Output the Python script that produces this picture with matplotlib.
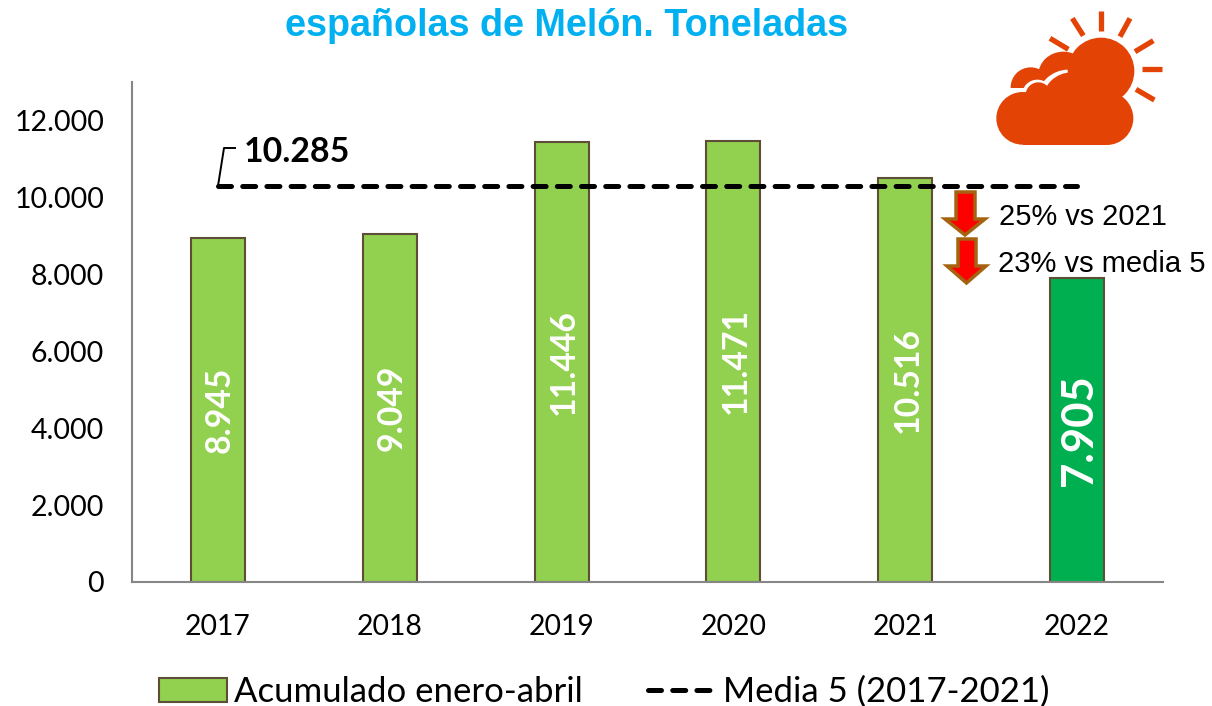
import matplotlib
matplotlib.use("Agg")
import matplotlib.pyplot as plt
from matplotlib.patches import Circle, Ellipse, Polygon, Rectangle, Patch
from matplotlib.lines import Line2D

plt.rcParams['font.family'] = ['Lato', 'DejaVu Sans']

years = ['2017', '2018', '2019', '2020', '2021', '2022']
values = [8945, 9049, 11446, 11471, 10516, 7905]
value_labels = ['8.945', '9.049', '11.446', '11.471', '10.516', '7.905']
media = 10285
media_label = '10.285'
yticks = [0, 2000, 4000, 6000, 8000, 10000, 12000]
ytick_labels = ['0', '2.000', '4.000', '6.000', '8.000', '10.000', '12.000']

W, H = 1212, 706
GREEN = '#92D050'
DARK_GREEN = '#00B050'
EDGE = '#5E4E37'
ICON = '#E34405'

fig = plt.figure(figsize=(W / 100, H / 100), dpi=100)
ax = fig.add_axes([132 / W, 1 - 582 / H, (1163 - 132) / W, (582 - 82) / H])

x = list(range(len(years)))
colors = [GREEN] * 5 + [DARK_GREEN]
ax.bar(x, values, width=0.314, color=colors, edgecolor=EDGE, linewidth=1.5, zorder=2)
ax.plot(x, [media] * len(x), color='black', lw=3.6, dashes=(2.6, 2.24),
        dash_capstyle='round', zorder=3)

for i, lab in enumerate(value_labels):
    big = i == 5
    ax.text(i + 0.012, values[i] / 2, lab, rotation=90, color='white', fontweight='bold',
            fontsize=31.5 if big else 24.3, ha='center', va='center', zorder=4)

ax.set_xlim(-0.5, 5.5)
ax.set_ylim(0, 13000)
ax.set_xticks(x)
ax.set_xticklabels(years)
ax.set_yticks(yticks)
ax.set_yticklabels(ytick_labels)
ax.tick_params(axis='x', length=0, labelsize=20.4, pad=23)
ax.tick_params(axis='y', length=0, labelsize=20.5, pad=20)
for s in ['top', 'right']:
    ax.spines[s].set_visible(False)
for s in ['left', 'bottom']:
    ax.spines[s].set_color('#868686')
    ax.spines[s].set_linewidth(1.5)

# overlay in pixel coordinates for annotations and the icon
ov = fig.add_axes([0, 0, 1, 1], facecolor='none')
ov.set_xlim(0, W)
ov.set_ylim(H, 0)
ov.axis('off')

ov.text(567, 26, 'españolas de Melón. Toneladas', color='#00B0F0', fontsize=27.2,
        fontweight='bold', family='Liberation Sans', ha='center', va='center')

ov.text(244, 152, media_label, color='black', fontsize=24.4, fontweight='bold',
        ha='left', va='center')
ov.plot([218, 224, 235], [186, 148, 148], color='black', lw=1.4)

# arrows
for sx0, sx1, top, neck, hx0, hx1, tip in [(956, 975, 192, 219, 945, 985, 235),
                                            (958, 976, 239, 266, 947, 986, 283)]:
    ov.add_patch(Polygon([(sx0, top), (sx1, top), (sx1, neck), (hx1, neck),
                          ((hx0 + hx1) / 2, tip), (hx0, neck), (sx0, neck)],
                         closed=True, facecolor='#FF0000', edgecolor='#A5620F', lw=2.5,
                         joinstyle='miter', zorder=5))
ov.text(999, 217, '25% vs 2021', family='Liberation Sans', fontsize=20.9, va='center', ha='left')
ov.text(998, 264, '23% vs media 5', family='Liberation Sans', fontsize=21, va='center', ha='left')


# weather icon, traced from the 3x zoom
def z(px, py):
    return 900 + px / 3, py / 3


rays = [((603, 32), (603, 92)), ((517, 55), (550, 107)), ((690, 55), (660, 110)),
        ((760, 122), (705, 155)), ((450, 115), (505, 148)), ((725, 208), (785, 208)),
        ((708, 268), (763, 300))]
for a, b in rays:
    p, q = z(*a), z(*b)
    ov.plot([p[0], q[0]], [p[1], q[1]], color=ICON, lw=3.8, solid_capstyle='butt')

# back cloud
ov.add_patch(Circle(z(392, 262), 60 / 3, color=ICON, lw=0))
ov.add_patch(Ellipse(z(490, 225), 150 / 3, 140 / 3, color=ICON, lw=0))
# white gap between back and front cloud
ov.add_patch(Circle(z(412, 285), 46 / 3, color='white', lw=0))
ov.add_patch(Rectangle(z(325, 265), 100 / 3, 30 / 3, color='white', lw=0))
ov.add_patch(Ellipse(z(505, 300), 186 / 3, 182 / 3, color='white', lw=0))
# sun
ov.add_patch(Circle(z(603, 213), 100 / 3, color=ICON, lw=0))
# front cloud
for cx, cy, r in [(368, 355, 79), (415, 285, 38), (515, 305, 88), (620, 355, 80)]:
    ov.add_patch(Circle(z(cx, cy), r / 3, color=ICON, lw=0))
ov.add_patch(Rectangle(z(368, 300), (620 - 368) / 3, 134 / 3, color=ICON, lw=0))

handles = [Patch(facecolor=GREEN, edgecolor=EDGE, lw=1.5),
           Line2D([0], [0], color='black', lw=3.6, dashes=(2.6, 2.24), dash_capstyle='round')]
fig.legend(handles, ['Acumulado enero-abril', 'Media 5 (2017-2021)'], ncol=2,
           loc='center', bbox_to_anchor=(604 / W, 1 - 692 / H), frameon=False,
           fontsize=25, handlelength=1.96, handleheight=0.65, handletextpad=0.2,
           columnspacing=1.87)

fig.savefig('out.png', dpi=100)
